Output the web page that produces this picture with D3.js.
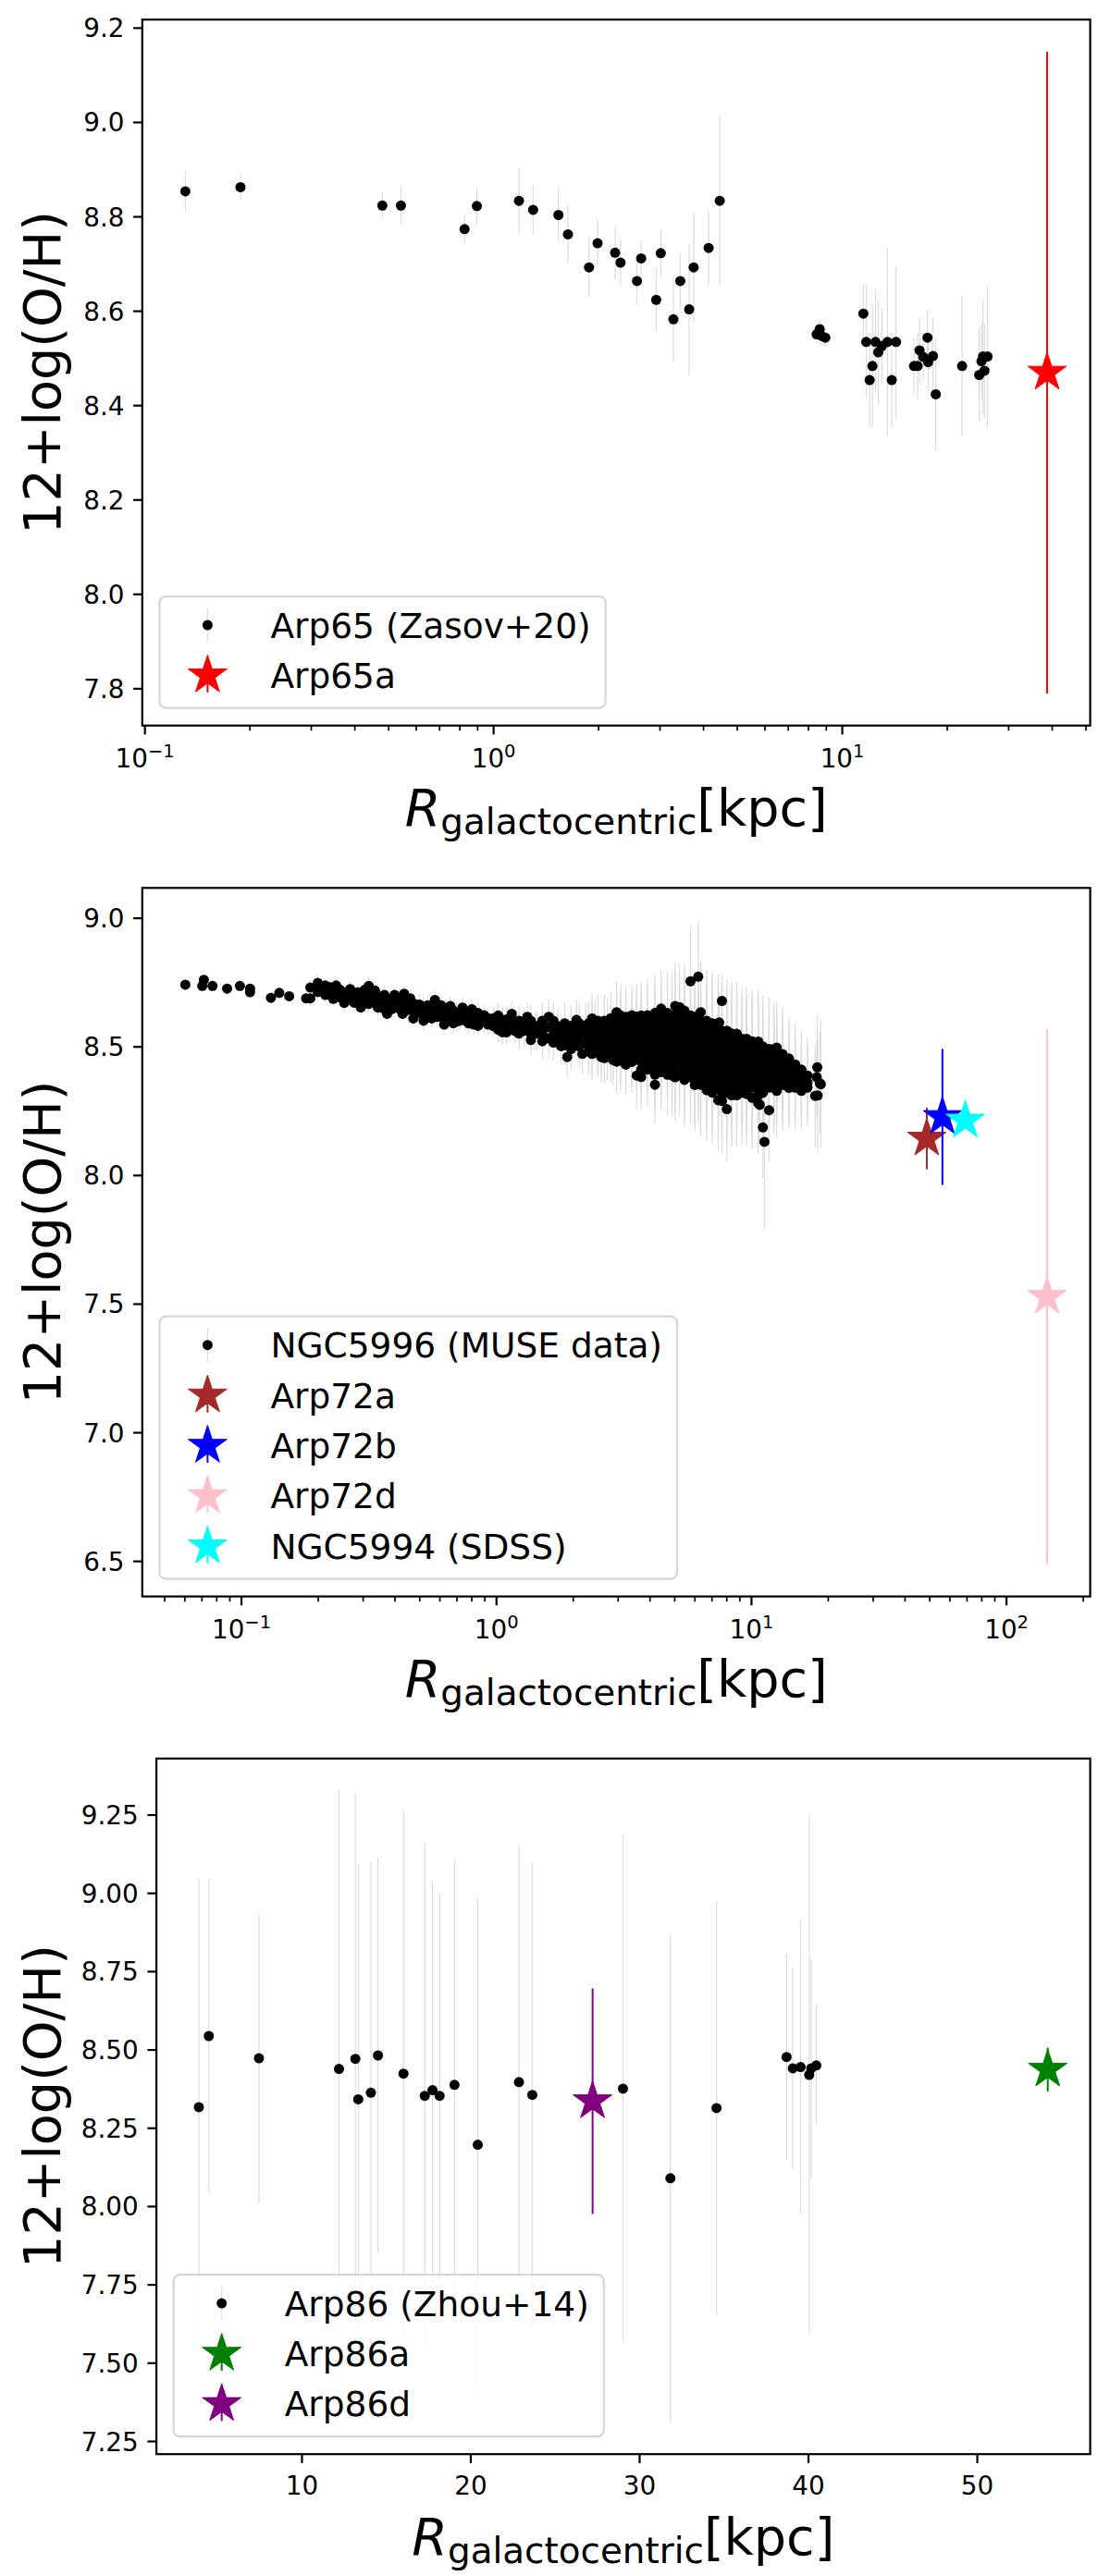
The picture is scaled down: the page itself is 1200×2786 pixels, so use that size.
<!DOCTYPE html>
<html>
<head>
<meta charset="utf-8">
<script src="https://cdn.jsdelivr.net/npm/d3@7"></script>
<style>
  body { margin: 0; background: #fff; }
  text { font-family: "DejaVu Sans", sans-serif; }
</style>
</head>
<body>
<svg id="fig" width="1200" height="2786"></svg>
<script>
// ---------- panel 1 : Arp65 (Zasov+20) ----------
var arp65R = [0.131,0.1885,0.481,0.544,0.828,0.898,1.186,1.302,1.539,1.639,1.884,1.993,2.238,2.319,2.586,2.658,2.935,3.026,3.289,3.441,3.649,3.760,4.151,4.466,
  8.64,8.47,8.73,8.97,11.53,11.75,12.24,12.02,12.49,12.72,13.03,13.52,14.31,13.91,16.11,16.5,16.71,17.12,17.61,17.69,18.26,18.6,22.13,24.78,25.66,25.15,26.18,25.4];
var arp65O = [8.853,8.862,8.823,8.823,8.773,8.822,8.833,8.814,8.803,8.762,8.692,8.743,8.723,8.702,8.663,8.711,8.623,8.722,8.582,8.663,8.603,8.692,8.733,8.833,
  8.561,8.550,8.547,8.543,8.594,8.534,8.483,8.453,8.534,8.512,8.525,8.534,8.534,8.453,8.483,8.483,8.516,8.502,8.543,8.491,8.504,8.423,8.483,8.464,8.473,8.493,8.503,8.503];
var arp65Err = [0.043,0.028,0.028,0.04,0.031,0.039,0.071,0.052,0.058,0.062,0.063,0.05,0.057,0.05,0.05,0.037,0.068,0.05,0.09,0.059,0.138,0.118,0.081,0.18,
  0.02,0.02,0.02,0.02,0.06,0.12,0.13,0.1,0.11,0.11,0.08,0.2,0.16,0.1,0.06,0.07,0.07,0.05,0.06,0.06,0.08,0.12,0.15,0.1,0.1,0.08,0.15,0.12];

var star1Name = ["Arp65a"];
var star1R = [38.8];
var star1O = [8.469];
var star1Err = [0.68];
var star1Color = ["red"];

// ---------- panel 2 : NGC5996 (MUSE data), one column of points per radius ----------
var museR = [
  0.0605,0.0705,0.0715,0.0773,0.0882,0.099,0.1085,0.131,0.1413,0.1545,0.18,
  0.187,0.2,0.214,0.224,0.236,0.254,0.268,0.287,0.295,0.317,0.335,0.344,0.354,0.374,0.379,0.412,0.43,0.436,0.461,0.474,0.501,0.56,0.576,0.609,0.626,0.662,0.699,0.739,0.804,0.815,0.898,0.976,
  1.061,1.153,1.187,1.29,1.326,1.441,1.61,1.75,1.80,1.902,2.068,2.18,2.248,2.38,2.443,2.584,2.733,2.88,2.97,
  3.23,3.41,3.56,3.71,3.92,4.2,4.44,4.7,4.9,5.04,5.24,5.48,5.79,5.79,6.02,6.21,6.21,6.35,6.7,7.05,7.44,7.5,7.69,7.69,
  8.04,8.4,8.79,9.2,9.6,10.1,10.67,10.82,11.13,11.13,11.29,11.77,12.3,12.61,13.3,14.09,14.9,15.76,16.65,17.84,18.1,18.19,18.25,18.62,18.78,
  0.205,0.23,0.245,0.26,0.278,0.305,0.325,0.365,0.39,0.40,0.42,0.445,0.48,0.52,0.54,0.59,0.64,0.68,0.72,0.76,0.78,0.85,0.93,
  1.02,1.1,1.23,1.37,1.52,1.68,1.86,1.97,2.12,2.31,2.51,2.66,2.82,3.08
];
var museO = [
  [8.740],[8.735],[8.759],[8.735],[8.725],[8.735],[8.725,8.711],[8.689],[8.708],[8.695],[8.687],
  [8.729,8.687],[8.747,8.712],[8.737,8.70],[8.699,8.73],[8.737,8.705],[8.669,8.70],[8.723,8.69],[8.681,8.71],[8.651],[8.735,8.70,8.665],
  [8.717,8.68],[8.651],[8.693,8.665],[8.627,8.66],[8.681],[8.657,8.69],[8.627,8.66],[8.705],[8.687,8.65],[8.609,8.64],
  [8.663,8.63],[8.609,8.64],[8.681,8.65],[8.627,8.66],[8.585,8.61],[8.657,8.625],[8.597,8.63],[8.651,8.62],[8.645,8.615],[8.585],[8.621,8.595],[8.579,8.61],
  [8.603,8.555,8.58],[8.627,8.60],[8.585,8.56],[8.561,8.59],[8.615],[8.579,8.55],[8.615,8.531,8.575],[8.579,8.555],[8.501,8.53],[8.459],
  [8.603,8.575,8.54],[8.471,8.51],[8.555,8.58],[8.609,8.58,8.55,8.52,8.49,8.471],[8.579,8.54],[8.459,8.49,8.52],[8.591,8.56,8.53,8.50,8.47],[8.447,8.48],
  [8.633,8.60,8.57,8.54,8.51,8.441],
  [8.615,8.585,8.555,8.525,8.495,8.465,8.429],
  [8.621,8.59,8.56,8.53,8.50,8.47,8.44],
  [8.615,8.585,8.555,8.525,8.49,8.46,8.387],
  [8.62,8.59,8.56,8.53,8.50,8.47,8.44,8.41,8.381],
  [8.621,8.59,8.56,8.53,8.50,8.47,8.44,8.41],
  [8.63,8.60,8.57,8.54,8.51,8.48,8.45,8.42,8.39,8.351],
  [8.647,8.61,8.58,8.55,8.52,8.49,8.46,8.43,8.40],
  [8.63,8.60,8.57,8.54,8.51,8.48,8.45,8.42,8.39],
  [8.62,8.59,8.56,8.53,8.50,8.47,8.44,8.41,8.387],
  [8.657,8.62,8.59,8.56,8.53,8.50,8.47,8.44,8.41,8.38],
  [8.653,8.62,8.59,8.56,8.53,8.50,8.47,8.44,8.40],
  [8.639,8.61,8.58,8.55,8.52,8.49,8.46,8.43,8.40,8.37],
  [8.62,8.59,8.56,8.53,8.50,8.47,8.44,8.41,8.38],
  [8.753],
  [8.61,8.58,8.55,8.52,8.49,8.46,8.43,8.40,8.37,8.35],
  [8.62,8.59,8.56,8.53,8.50,8.47,8.44,8.41,8.38],
  [8.771],
  [8.633,8.60,8.57,8.54,8.51,8.48,8.45,8.42,8.39,8.351],
  [8.60,8.57,8.54,8.51,8.48,8.45,8.42,8.39,8.36,8.33],
  [8.59,8.56,8.53,8.50,8.47,8.44,8.41,8.38,8.35,8.32],
  [8.58,8.55,8.52,8.49,8.46,8.43,8.40,8.37,8.34,8.291],
  [8.593],
  [8.56,8.53,8.50,8.47,8.44,8.41,8.38,8.35,8.32,8.288],
  [8.677],
  [8.561,8.53,8.50,8.47,8.44,8.41,8.38,8.35,8.32,8.256],
  [8.55,8.52,8.49,8.46,8.43,8.40,8.37,8.34,8.31],
  [8.549,8.52,8.49,8.46,8.43,8.40,8.37,8.34,8.31],
  [8.53,8.50,8.47,8.44,8.41,8.38,8.35,8.32],
  [8.53,8.50,8.47,8.44,8.41,8.38,8.35,8.315],
  [8.52,8.49,8.46,8.43,8.40,8.37,8.34,8.30],
  [8.519,8.49,8.46,8.43,8.40,8.37,8.34,8.31,8.279],
  [8.273],
  [8.50,8.47,8.44,8.41,8.38,8.35,8.32],
  [8.185],
  [8.129],
  [8.49,8.46,8.43,8.40,8.37,8.34,8.252],
  [8.49,8.46,8.43,8.40,8.37,8.34],
  [8.495,8.46,8.43,8.40,8.37,8.327],
  [8.47,8.44,8.41,8.38,8.35],
  [8.453,8.42,8.39,8.36,8.339],
  [8.43,8.40,8.37,8.34],
  [8.41,8.38,8.35,8.327],
  [8.387,8.36,8.34],
  [8.308],[8.38],[8.419],[8.309],[8.357],[8.353],
  // extra points filling the band between 0.2 and 3 kpc
  [8.72],[8.715,8.685],[8.72,8.69],[8.71,8.68],[8.70,8.67],[8.72,8.685],[8.69],[8.70,8.675,8.645],[8.675,8.645],[8.70,8.66],[8.675,8.645],[8.67,8.64],
  [8.665,8.63],[8.65,8.62,8.60],[8.66,8.63],[8.645,8.615],[8.64,8.61],[8.64,8.61,8.59],[8.63,8.60],[8.63,8.60],[8.61,8.59],[8.63,8.60,8.58],[8.61,8.585],
  [8.62,8.59,8.565],[8.605,8.58,8.555],[8.60,8.575,8.55],[8.60,8.575,8.55,8.525],[8.60,8.575,8.55,8.52],[8.60,8.57,8.545,8.515],[8.59,8.56,8.535,8.505],
  [8.58,8.55,8.52,8.49],[8.59,8.56,8.53,8.50],[8.59,8.565,8.535,8.505,8.48],[8.60,8.57,8.54,8.51,8.48],[8.60,8.57,8.54,8.51,8.48,8.455],
  [8.61,8.58,8.55,8.52,8.49,8.46],[8.62,8.59,8.56,8.53,8.50,8.47,8.445]
];
var museErr = [
  0.02,0.02,0.02,0.02,0.02,0.02,0.02,0.02,0.02,0.02,0.02,
  0.03,0.03,0.03,0.03,0.03,0.03,0.03,0.03,0.03,0.03,0.03,0.03,0.03,0.03,0.03,0.03,0.03,0.03,0.03,0.03,0.04,0.04,0.04,0.04,0.04,0.04,0.04,0.04,0.04,0.04,0.04,0.04,
  0.05,0.05,0.05,0.06,0.06,0.06,0.07,0.07,0.07,0.08,0.08,0.08,0.09,0.1,0.1,0.1,0.1,0.1,0.12,
  0.12,0.12,0.13,0.13,0.14,0.15,0.15,0.16,0.16,0.17,0.17,0.18,0.18,0.22,0.18,0.18,0.22,0.2,0.2,0.2,0.2,0.12,0.2,0.1,
  0.2,0.2,0.2,0.2,0.2,0.2,0.2,0.15,0.2,0.2,0.34,0.2,0.18,0.18,0.18,0.16,0.16,0.15,0.15,0.2,0.15,0.2,0.22,0.2,0.25,
  0.03,0.03,0.03,0.03,0.03,0.03,0.03,0.03,0.03,0.03,0.03,0.03,0.03,0.04,0.04,0.04,0.04,0.04,0.04,0.04,0.04,0.04,0.04,
  0.05,0.05,0.06,0.06,0.07,0.07,0.08,0.08,0.08,0.09,0.1,0.1,0.1,0.12
];

var star2Name = ["Arp72a", "Arp72b", "Arp72d", "NGC5994 (SDSS)"];
var star2R = [48.9, 56.3, 144.9, 69.2];
var star2O = [8.142, 8.226, 7.527, 8.212];
var star2Err = [0.12, 0.264, 1.04, 0.02];
var star2Color = ["brown", "blue", "pink", "cyan"];

// ---------- panel 3 : Arp86 (Zhou+14) ----------
var arp86R = [3.92,4.51,7.48,12.22,13.19,13.36,14.11,14.53,16.04,17.30,17.76,18.18,19.06,20.44,22.88,23.67,29.04,31.85,34.58,38.73,39.1,39.56,40.07,40.19,40.49];
var arp86O = [8.316,8.543,8.472,8.438,8.47,8.341,8.362,8.481,8.423,8.352,8.37,8.352,8.387,8.196,8.396,8.355,8.375,8.089,8.313,8.476,8.44,8.444,8.419,8.44,8.449];
var arp86Err = [0.73,0.5,0.46,0.89,0.85,0.75,0.74,0.63,0.84,0.81,0.67,0.65,0.72,0.79,0.76,0.74,0.81,0.78,0.66,0.33,0.32,0.47,0.83,0.35,0.19];

var star3Name = ["Arp86a", "Arp86d"];
var star3R = [54.2, 27.24];
var star3O = [8.436, 8.335];
var star3Err = [0.07, 0.36];
var star3Color = ["green", "purple"];

// ---------- tick values ----------
var yTicks1 = [7.8, 8.0, 8.2, 8.4, 8.6, 8.8, 9.0, 9.2];
var yTicks2 = [6.5, 7.0, 7.5, 8.0, 8.5, 9.0];
var yTicks3 = [7.25, 7.50, 7.75, 8.00, 8.25, 8.50, 8.75, 9.00, 9.25];
var xTicks3 = [10, 20, 30, 40, 50];
var logMajors = [0.01, 0.1, 1, 10, 100, 1000];

var svg = d3.select("#fig");
var starPath = d3.symbol().type(d3.symbolStar).size(543)();

function toPoints(R, O, E) {
  return R.map((r, i) => ({ r: r, o: O[i], e: E[i] }));
}
function toStars(names, R, O, E, C) {
  return names.map((n, i) => ({ name: n, r: R[i], o: O[i], e: E[i], color: C[i] }));
}

// matplotlib style 5% margins
function padded(lo, hi, log) {
  if (log) {
    let a = Math.log10(lo), b = Math.log10(hi), p = (b - a) * 0.05;
    return [Math.pow(10, a - p), Math.pow(10, b + p)];
  }
  let p = (hi - lo) * 0.05;
  return [lo - p, hi + p];
}

function drawPanel(cfg, idx) {
  let box = cfg.box;
  let all = cfg.dots.concat(cfg.stars);
  let xd = padded(d3.min(all, d => d.r), d3.max(all, d => d.r), cfg.log);
  let yd = padded(d3.min(all, d => d.o - d.e), d3.max(all, d => d.o + d.e), false);

  let x = (cfg.log ? d3.scaleLog() : d3.scaleLinear()).domain(xd).range([box.l, box.r]);
  let y = d3.scaleLinear().domain(yd).range([box.b, box.t]);

  svg.append("clipPath").attr("id", "clip" + idx)
    .append("rect")
    .attr("x", box.l).attr("y", box.t)
    .attr("width", box.r - box.l).attr("height", box.b - box.t);

  let plot = svg.append("g").attr("clip-path", "url(#clip" + idx + ")");

  // grey error bars, then black points
  plot.append("g").selectAll("line")
    .data(cfg.dots)
    .join("line")
    .attr("x1", d => x(d.r)).attr("x2", d => x(d.r))
    .attr("y1", d => y(d.o - d.e)).attr("y2", d => y(d.o + d.e))
    .attr("stroke", "#dcdcdc")
    .attr("stroke-width", 1.2);

  plot.append("g").selectAll("circle")
    .data(cfg.dots)
    .join("circle")
    .attr("cx", d => x(d.r))
    .attr("cy", d => y(d.o))
    .attr("r", 5.5)
    .attr("fill", "#000");

  // stars with their error bars
  cfg.stars.forEach(s => {
    plot.append("line")
      .attr("x1", x(s.r)).attr("x2", x(s.r))
      .attr("y1", y(s.o - s.e)).attr("y2", y(s.o + s.e))
      .attr("stroke", s.color)
      .attr("stroke-width", 2);
    plot.append("path")
      .attr("d", starPath)
      .attr("transform", `translate(${x(s.r)},${y(s.o)})`)
      .attr("fill", s.color)
      .attr("stroke", s.color)
      .attr("stroke-width", 1);
  });

  // x axis
  let gx = svg.append("g").attr("transform", `translate(0,${box.b})`);
  if (cfg.log) {
    let majors = logMajors.filter(v => v >= xd[0] && v <= xd[1]);
    let minors = [];
    logMajors.forEach(m => {
      for (let k = 2; k <= 9; k++) {
        let v = m * k;
        if (v >= xd[0] && v <= xd[1]) minors.push(v);
      }
    });
    svg.append("g").attr("transform", `translate(0,${box.b})`)
      .call(d3.axisBottom(x).tickValues(minors).tickSizeInner(5.6).tickSizeOuter(0).tickFormat(""))
      .call(g => g.select(".domain").remove())
      .call(g => g.selectAll("line").attr("stroke-width", 1.7));
    gx.call(d3.axisBottom(x).tickValues(majors).tickSizeInner(9.7).tickSizeOuter(0).tickFormat(""));
    gx.selectAll(".tick text").each(function (d) {
      let t = d3.select(this);
      let ex = Math.round(Math.log10(d));
      t.attr("y", 45).attr("dy", null).attr("font-size", 27.8);
      t.append("tspan").text("10");
      t.append("tspan").attr("font-size", 19.5).attr("dy", -11)
        .text(ex < 0 ? "\u2212" + (-ex) : String(ex));
    });
  } else {
    gx.call(d3.axisBottom(x).tickValues(cfg.xTicks).tickSizeInner(9.7).tickSizeOuter(0).tickFormat(d3.format("d")));
    gx.selectAll(".tick text").attr("y", 44).attr("dy", null).attr("font-size", 27.8);
  }
  gx.attr("font-family", null).attr("font-size", null);
  gx.select(".domain").remove();
  gx.selectAll(".tick line").attr("stroke-width", 2.2);

  // y axis
  let gy = svg.append("g").attr("transform", `translate(${box.l},0)`)
    .call(d3.axisLeft(y).tickValues(cfg.yTicks).tickFormat(d3.format(cfg.yFmt))
      .tickSizeInner(9.7).tickSizeOuter(0).tickPadding(9.7));
  gy.attr("font-family", null).attr("font-size", null);
  gy.select(".domain").remove();
  gy.selectAll(".tick line").attr("stroke-width", 2.2);
  gy.selectAll(".tick text").attr("font-size", 27.8).attr("dy", "0.36em");

  // spines
  svg.append("rect")
    .attr("x", box.l).attr("y", box.t)
    .attr("width", box.r - box.l).attr("height", box.b - box.t)
    .attr("fill", "none").attr("stroke", "#000").attr("stroke-width", 2.2);

  // axis labels
  let xl = svg.append("text")
    .attr("x", (box.l + box.r) / 2)
    .attr("y", box.b + 108.5)
    .attr("text-anchor", "middle")
    .attr("font-size", 55.6)
    .attr("fill", "#000");
  xl.append("tspan").attr("font-style", "italic").text("R");
  xl.append("tspan").attr("font-size", 38.9).attr("dy", 9).text("galactocentric");
  xl.append("tspan").attr("dy", -9).text("[kpc]");

  svg.append("text")
    .attr("transform", `translate(65,${(box.t + box.b) / 2}) rotate(-90)`)
    .attr("text-anchor", "middle")
    .attr("font-size", 55.6)
    .attr("fill", "#000")
    .text("12+log(O/H)");

  // legend (lower left)
  let entries = [{ name: cfg.dotLabel, dot: true, color: "#000" }]
    .concat(cfg.stars.map(s => ({ name: s.name, dot: false, color: s.color })));
  let rowH = 54.4, legH = 31 + (entries.length - 1) * rowH + 35.3;
  let lx = box.l + 18.6, ly = box.b - 19 - legH;
  let lg = svg.append("g");
  let frame = lg.append("rect")
    .attr("x", lx).attr("y", ly)
    .attr("height", legH)
    .attr("rx", 7).attr("ry", 7)
    .attr("fill", "#fff").attr("fill-opacity", 0.8)
    .attr("stroke", "#cccccc").attr("stroke-opacity", 0.8)
    .attr("stroke-width", 2.2);
  let maxW = 0;
  entries.forEach((en, i) => {
    let cy = ly + 31 + i * rowH, mx = lx + 52;
    lg.append("line")
      .attr("x1", mx).attr("x2", mx)
      .attr("y1", cy - 18.5).attr("y2", cy + 18.5)
      .attr("stroke", en.dot ? "#dcdcdc" : en.color)
      .attr("stroke-width", en.dot ? 1.2 : 2);
    if (en.dot) {
      lg.append("circle").attr("cx", mx).attr("cy", cy).attr("r", 5.5).attr("fill", "#000");
    } else {
      lg.append("path").attr("d", starPath)
        .attr("transform", `translate(${mx},${cy})`)
        .attr("fill", en.color).attr("stroke", en.color).attr("stroke-width", 1);
    }
    let t = lg.append("text")
      .attr("x", lx + 120).attr("y", cy + 13.5)
      .attr("font-size", 37.5)
      .attr("fill", "#000")
      .text(en.name);
    maxW = Math.max(maxW, t.node().getComputedTextLength());
  });
  frame.attr("width", 120 + maxW + 16);
}

drawPanel({
  box: { l: 153.8, r: 1178.6, t: 21.2, b: 784.7 },
  log: true,
  dots: toPoints(arp65R, arp65O, arp65Err),
  stars: toStars(star1Name, star1R, star1O, star1Err, star1Color),
  dotLabel: "Arp65 (Zasov+20)",
  yTicks: yTicks1, yFmt: ".1f"
}, 1);

var museDots = [];
museR.forEach((r, i) => museO[i].forEach(o => museDots.push({ r: r, o: o, e: museErr[i] })));

drawPanel({
  box: { l: 153.8, r: 1178.6, t: 960.3, b: 1726.6 },
  log: true,
  dots: museDots,
  stars: toStars(star2Name, star2R, star2O, star2Err, star2Color),
  dotLabel: "NGC5996 (MUSE data)",
  yTicks: yTicks2, yFmt: ".1f"
}, 2);

drawPanel({
  box: { l: 169.1, r: 1178.6, t: 1901.9, b: 2654.2 },
  log: false,
  xTicks: xTicks3,
  dots: toPoints(arp86R, arp86O, arp86Err),
  stars: toStars(star3Name, star3R, star3O, star3Err, star3Color),
  dotLabel: "Arp86 (Zhou+14)",
  yTicks: yTicks3, yFmt: ".2f"
}, 3);
</script>
</body>
</html>
